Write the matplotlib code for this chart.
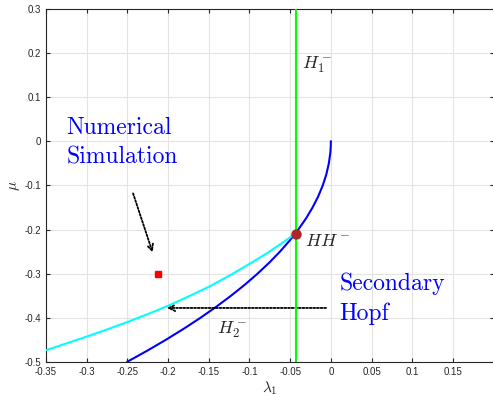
import matplotlib
matplotlib.use('Agg')
import matplotlib.pyplot as plt

matplotlib.rc('mathtext', fontset='cm')

# Hopf-Hopf branch (blue), lambda_1 versus mu
blue_mu = [0.0, -0.01, -0.025, -0.05, -0.075, -0.1, -0.125, -0.15, -0.175, -0.2,
           -0.225, -0.25, -0.275, -0.3, -0.325, -0.35, -0.375, -0.4, -0.425,
           -0.45, -0.475, -0.5]
blue_lam = [0.0, -0.0001, -0.0006, -0.0025, -0.0056, -0.0100, -0.0156, -0.0225,
            -0.0306, -0.0400, -0.0506, -0.0625, -0.0756, -0.0900, -0.1056,
            -0.1225, -0.1406, -0.1600, -0.1806, -0.2025, -0.2256, -0.2500]

# secondary Hopf branch H_2^- (cyan), ends at HH^-
cyan_lam = [-0.35, -0.325, -0.30, -0.275, -0.25, -0.225, -0.20, -0.175, -0.15,
            -0.125, -0.10, -0.08, -0.063, -0.0434]
cyan_mu = [-0.474, -0.4585, -0.443, -0.4268, -0.410, -0.392, -0.373, -0.352,
           -0.330, -0.305, -0.278, -0.2555, -0.2345, -0.209]

# H_1^- line and codimension-two point
h1_lam = -0.0434
hh_point = (-0.0434, -0.209)
sim_point = (-0.212, -0.300)

xticks = [-0.35, -0.3, -0.25, -0.2, -0.15, -0.1, -0.05, 0, 0.05, 0.1, 0.15]
yticks = [-0.5, -0.4, -0.3, -0.2, -0.1, 0, 0.1, 0.2, 0.3]

fig = plt.figure(figsize=(4.93, 3.97), dpi=100)
ax = fig.add_axes([0.0933, 0.0889, 0.908, 0.8877])

ax.plot(blue_lam, blue_mu, color='#0000ff', lw=1.5, zorder=3)
ax.plot(cyan_lam, cyan_mu, color='#00ffff', lw=1.5, zorder=3)
ax.plot([h1_lam, h1_lam], [-0.5, 0.3], color='#00ff00', lw=1.5, zorder=4)
ax.plot(*hh_point, 'o', color='#a8272a', ms=6.5, zorder=5)
ax.plot(*sim_point, 's', color='#ff0000', ms=5, zorder=5)

arrow = dict(arrowstyle='->, head_length=0.45, head_width=0.22',
             linestyle=(0, (1.0, 1.0)), lw=1.3, color='k', shrinkA=0, shrinkB=0)
ax.annotate('', xy=(-0.219, -0.252), xytext=(-0.243, -0.118), arrowprops=arrow)
ax.annotate('', xy=(-0.2015, -0.378), xytext=(-0.006, -0.378), arrowprops=arrow)

# baseline of the last line is anchored
ax.text(-0.3247, -0.0493, 'Numerical\nSimulation', family='cmr10', fontsize=17,
        color='#0000ff', va='baseline', ha='left', linespacing=1.4)
ax.text(0.0102, -0.4045, 'Secondary\nHopf', family='cmr10', fontsize=17,
        color='#0000ff', va='baseline', ha='left', linespacing=1.4)
ax.text(-0.036, 0.1666, r'$H_1^-$', fontsize=13, color='#262626', va='baseline')
ax.text(-0.032, -0.237, r'$HH^-$', fontsize=13, color='#262626', va='baseline')
ax.text(-0.1404, -0.4366, r'$H_2^-$', fontsize=13, color='#262626', va='baseline')

ax.set_xlim(-0.35, 0.2)
ax.set_ylim(-0.5, 0.3)
ax.set_xticks(xticks)
ax.set_xticklabels(['%g' % t for t in xticks])
ax.set_yticks(yticks)
ax.set_yticklabels(['%g' % t for t in yticks])
ax.tick_params(direction='in', top=True, right=True, length=3, width=0.8,
               colors='#262626', labelsize=7, pad=3.5)
for lab in ax.get_xticklabels() + ax.get_yticklabels():
    lab.set_family('Liberation Sans')
for s in ax.spines.values():
    s.set_color('#262626')
    s.set_linewidth(0.8)
ax.grid(True, color='#e3e3e3', lw=0.8)
ax.set_axisbelow(True)

ax.set_xlabel(r'$\lambda_1$', fontsize=11, color='#262626', labelpad=2)
ax.set_ylabel(r'$\mu$', fontsize=11, color='#262626', labelpad=2)

plt.savefig('out.png', dpi=100)
